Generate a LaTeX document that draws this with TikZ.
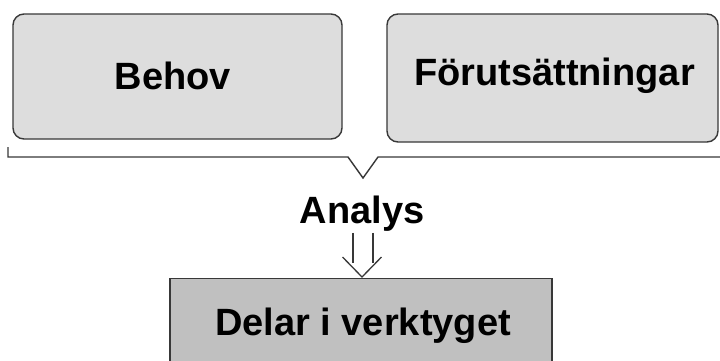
\documentclass[tikz,border=0pt]{standalone}
\usepackage{fontspec}
\setmainfont{Liberation Sans}
\usetikzlibrary{calc}
\definecolor{edge}{HTML}{383838}
\definecolor{lightbox}{HTML}{DDDDDD}
\definecolor{darkbox}{HTML}{C0C0C0}
\tikzset{
  inbox/.style={draw=edge, fill=lightbox, line width=1.4pt, rounded corners=11pt, inner sep=0pt},
  partbox/.style={draw=edge, fill=darkbox, line width=1.4pt, inner sep=0pt},
  label/.style={font=\fontsize{38}{40}\selectfont\bfseries, text=black, inner sep=0pt},
  brace/.style={draw=edge, line width=1.4pt, line join=miter},
  openarrow/.style={draw=edge, line width=1.3pt},
}
\begin{document}
\begin{tikzpicture}[x=1pt, y=-1pt]
  \clip (0,0) rectangle (720,360);
  \fill[white] (0,0) rectangle (720,360);

  % inputs
  \node[inbox, minimum width=329pt, minimum height=125pt] (needs) at (177.5,76.5) {};
  \node[label] at (173,76) {Behov};
  \node[inbox, minimum width=331pt, minimum height=128pt] (cond) at (552.5,78) {};
  \node[label] at (554.5,76) {Förutsättningar};

  % brace gathering both inputs
  \coordinate (bl) at (8,147);
  \coordinate (br) at (724,157);
  \coordinate (tip) at (363,178);
  \draw[brace] (bl) -- (8,157) -- (348,157) -- (tip) -- (378,157) -- (br);

  % analysis step
  \node[label] (analys) at (362,214) {Analys};

  % resulting parts
  \node[partbox, anchor=north, minimum width=382pt, minimum height=120pt] (parts) at (361,278) {};
  \node[label] (partslabel) at (363,326) {Delar i verktyget};

  % open double arrow from the analysis down to the parts
  \coordinate (a) at (analys.south);
  \coordinate (h) at (parts.north);
  \coordinate (head) at ($(h)+(1,-1)$);
  \draw[openarrow] ($(a)+(-9,1)$) -- ($(a)+(-9,31)$);
  \draw[openarrow] ($(a)+(11,1)$) -- ($(a)+(11,31)$);
  \draw[openarrow, line join=miter] ($(head)+(-19.5,-20)$) -- (head) -- ($(head)+(19.5,-20)$);
\end{tikzpicture}
\end{document}
